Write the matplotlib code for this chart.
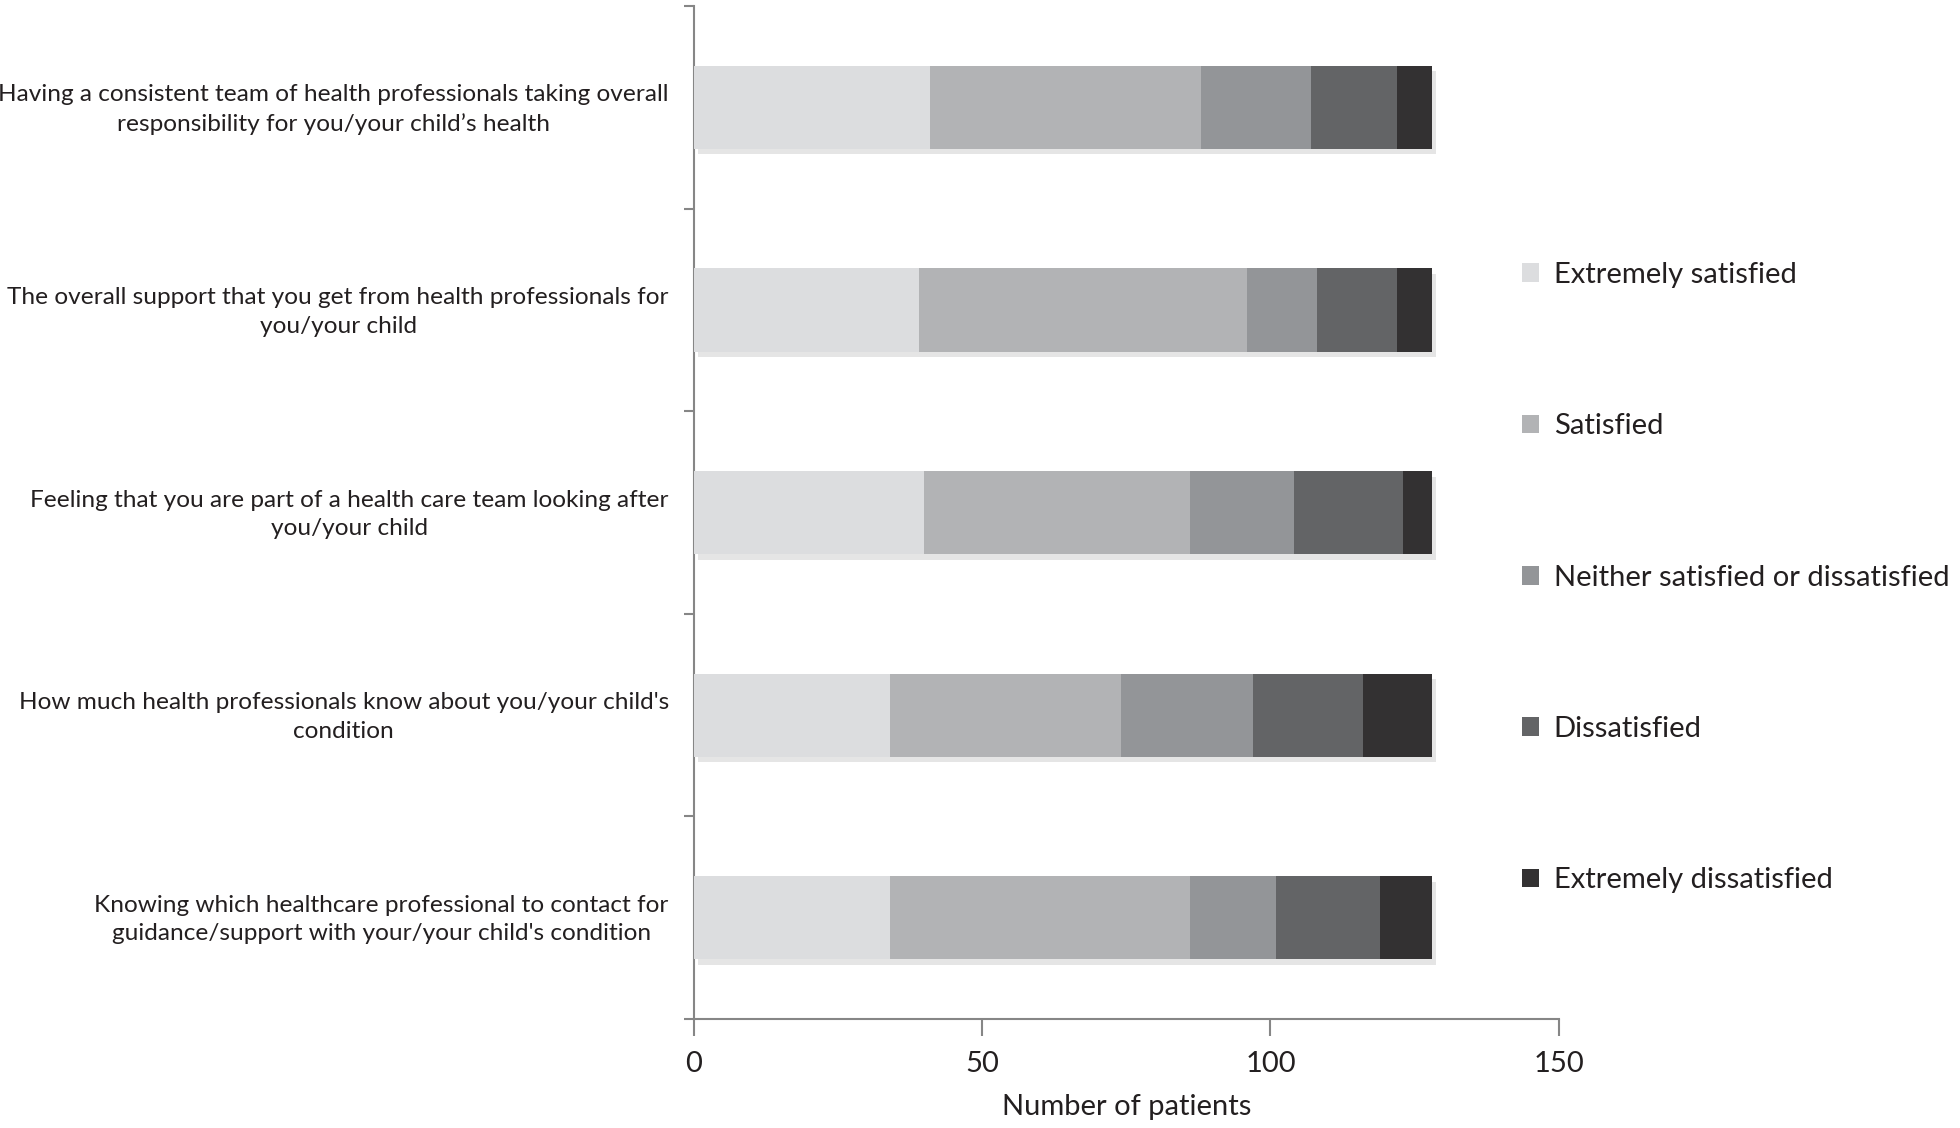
import numpy as np
import matplotlib
matplotlib.use("Agg")
import matplotlib.pyplot as plt
import matplotlib.patheffects as pe
from matplotlib.patches import Patch

plt.rcParams['font.family'] = ['Lato', 'DejaVu Sans']

# survey items, top to bottom
questions = [
    "Having a consistent team of health professionals taking overall\nresponsibility for you/your child\u2019s health",
    "The overall support that you get from health professionals for\nyou/your child",
    "Feeling that you are part of a health care team looking after\nyou/your child",
    "How much health professionals know about you/your child's\ncondition",
    "Knowing which healthcare professional to contact for\nguidance/support with your/your child's condition",
]
responses = ["Extremely satisfied", "Satisfied", "Neither satisfied or dissatisfied",
             "Dissatisfied", "Extremely dissatisfied"]

extremely_satisfied = [41, 39, 40, 34, 34]
satisfied = [47, 57, 46, 40, 52]
neither = [19, 12, 18, 23, 15]
dissatisfied = [15, 14, 19, 19, 18]
extremely_dissatisfied = [6, 6, 5, 12, 9]

colors = ['#dcdddf', '#b2b3b5', '#939598', '#636466', '#333132']

series = [extremely_satisfied, satisfied, neither, dissatisfied, extremely_dissatisfied]

fig = plt.figure(figsize=(19.6, 11.28), dpi=100)
ax = fig.add_axes([0.354, 0.0966, 0.4413, 0.898])

y = np.arange(len(questions))
left = np.zeros(len(questions))
shadow = [pe.SimplePatchShadow(offset=(3, -4), shadow_rgbFace='#aaaaaa', alpha=0.3), pe.Normal()]
for vals, col, name in zip(series, colors, responses):
    bars = ax.barh(y, vals, left=left, height=0.41, color=col, zorder=3)
    for b in bars:
        b.set_path_effects(shadow)
    left += np.array(vals)

ax.set_xlim(0, 150)
ax.set_ylim(len(questions) - 0.5, -0.5)
ax.set_xticks([0, 50, 100, 150])
ax.tick_params(axis='x', direction='out', length=12, width=1.5, color='#868686',
               labelsize=21, pad=11, labelcolor='#231f20')

# category boundary ticks on y, labels at centres
ax.set_yticks(np.arange(-0.5, len(questions), 1.0))
ax.set_yticklabels([])
ax.tick_params(axis='y', which='major', direction='out', length=7, width=1.5, color='#868686')
ax.set_yticks(y - 0.02, minor=True)
ax.set_yticklabels(questions, minor=True, fontsize=17.6, color='#231f20')
ax.tick_params(axis='y', which='minor', length=0, pad=18)
for lab in ax.get_yticklabels(minor=True):
    lab.set_multialignment('center')
    lab.set_linespacing(1.45)

for s in ['top', 'right']:
    ax.spines[s].set_visible(False)
for s in ['left', 'bottom']:
    ax.spines[s].set_color('#868686')
    ax.spines[s].set_linewidth(1.5)

ax.set_xlabel("Number of patients", fontsize=21, color='#231f20', labelpad=12)

handles = [Patch(facecolor=c, edgecolor='none') for c in colors]
fig.legend(handles, responses, loc='center left', bbox_to_anchor=(0.763, 0.488),
           frameon=False, fontsize=21, handlelength=0.6, handleheight=0.6,
           handletextpad=0.5, labelspacing=4.3, labelcolor='#231f20')

fig.savefig('out.png', dpi=100)
